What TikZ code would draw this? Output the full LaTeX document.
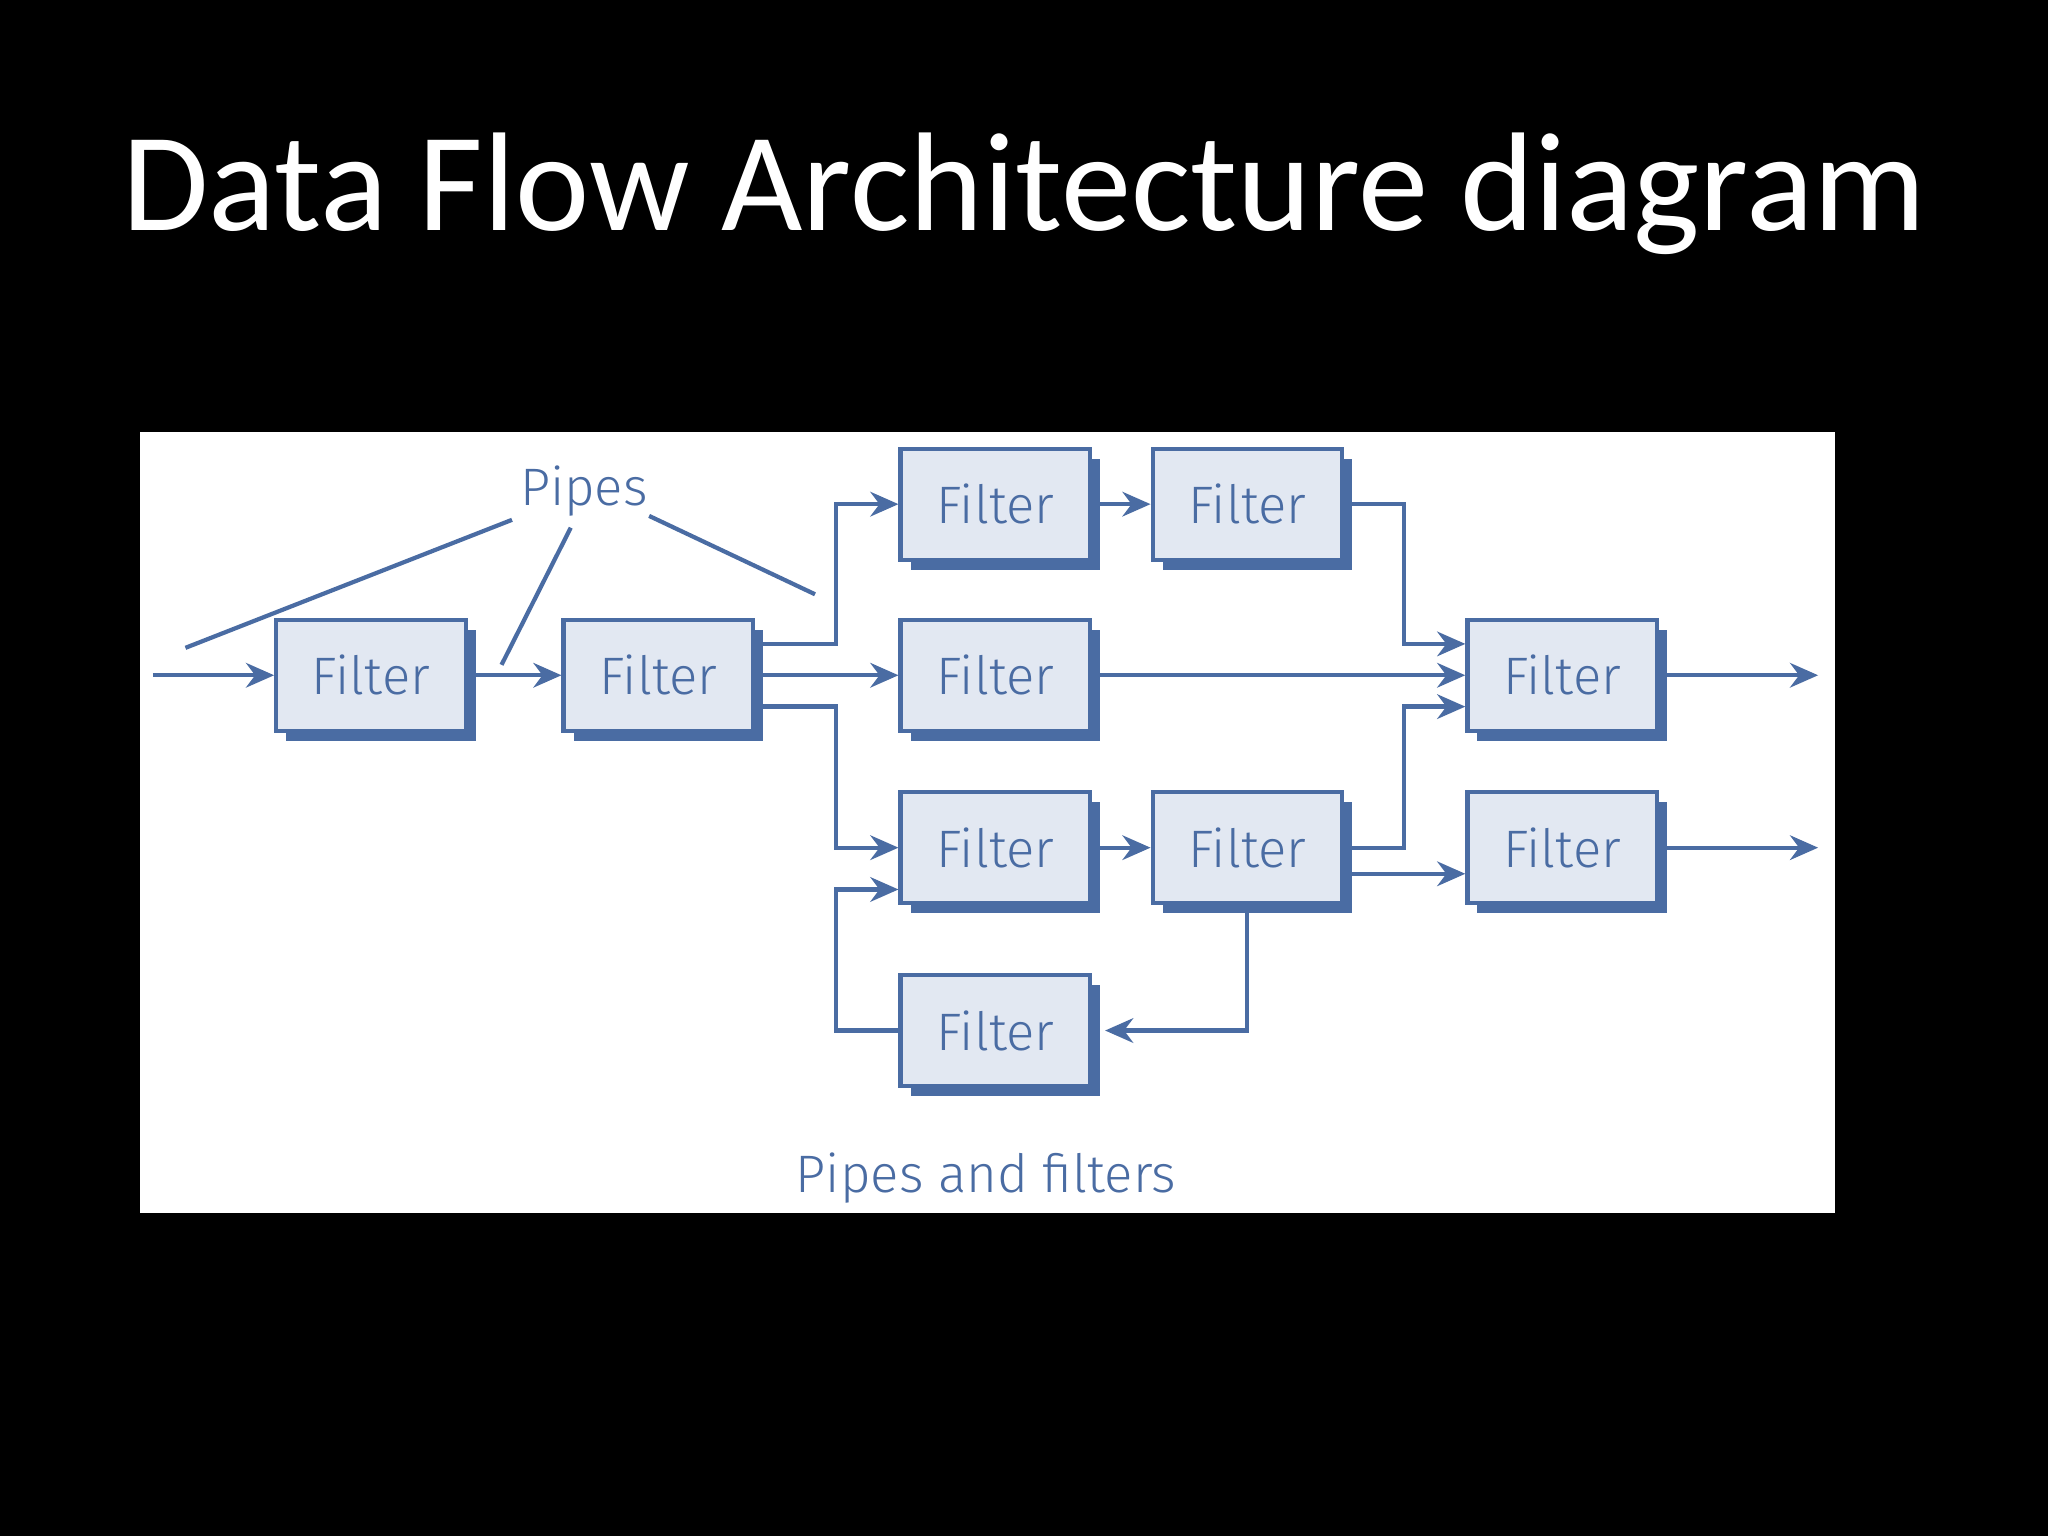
\documentclass[tikz,border=0pt]{standalone}
\usepackage{fontspec}
\setmainfont{Carlito}
\newfontfamily\diafont{Fira Sans Light}
\usetikzlibrary{arrows.meta,positioning,calc,shadows}
\definecolor{pipeblue}{HTML}{4A6CA3}
\definecolor{boxfill}{HTML}{E2E8F2}
\tikzset{
  filter/.style={rectangle, draw=pipeblue, line width=1.2pt, fill=boxfill,
    minimum width=145*0.01306cm, minimum height=85*0.01306cm, font=\diafont\fontsize{15}{18}\selectfont,
    text=pipeblue,
    drop shadow={shadow xshift=0.1cm, shadow yshift=-0.1cm, fill=pipeblue, opacity=1}},
  pipe/.style={draw=pipeblue, line width=1.2pt, -{Stealth[length=8pt,width=7pt]}},
  pointer/.style={draw=pipeblue, line width=1.2pt},
  lbl/.style={text=pipeblue, font=\diafont\fontsize{15}{18}\selectfont}
}
\begin{document}
\begin{tikzpicture}[x=0.01306cm, y=-0.01306cm]
\fill[black] (0,0) rectangle (1568,1176);
\node[text=white, font=\fontsize{40}{48}\selectfont] (title) at (784,148) {Data Flow Architecture diagram};
\fill[white] (107,331) rectangle (1405,929);

% filters
\node[filter] (a)  at (284,517) {Filter};
\node[filter] (b)  at (504,517) {Filter};
\node[filter] (c1) at (762,386) {Filter};
\node[filter] (c2) at (955,386) {Filter};
\node[filter] (d)  at (762,517) {Filter};
\node[filter] (e)  at (1196,517) {Filter};
\node[filter] (f1) at (762,649) {Filter};
\node[filter] (f2) at (955,649) {Filter};
\node[filter] (g)  at (1196,649) {Filter};
\node[filter] (h)  at (762,789) {Filter};

\coordinate (in)   at (117,517);
\coordinate (out1) at (1392,517);
\coordinate (out2) at (1392,649);

% pipes
\draw[pipe] (in) -- (a.west);
\draw[pipe] (a.east) -- (b.west);
\draw[pipe] ($(b.east)+(0,-24)$) -| (640,386) -- (c1.west);
\draw[pipe] (b.east) -- (d.west);
\draw[pipe] ($(b.east)+(0,24)$) -| (640,649) -- (f1.west);
\draw[pipe] (c1.east) -- (c2.west);
\draw[pipe] (c2.east) -| (1075,493) -- ($(e.west)+(0,-24)$);
\draw[pipe] (d.east) -- (e.west);
\draw[pipe] (f1.east) -- (f2.west);
\draw[pipe] (f2.east) -| (1075,541) -- ($(e.west)+(0,24)$);
\draw[pipe] ($(f2.east)+(0,20)$) -- ($(g.west)+(0,20)$);
\draw[pipe] (f2.south) |- ($(h.east)+(10,0)$);
\draw[pipe] (h.west) -| (640,681) -- ($(f1.west)+(0,32)$);
\draw[pipe] (e.east) -- (out1);
\draw[pipe] (g.east) -- (out2);

% labels
\node[lbl] (pipes) at (447,376) {Pipes};
\node[lbl] (caption) at (755,902) {Pipes and filters};
\draw[pointer] (392,398) -- (142,496);
\draw[pointer] (437,404) -- (384,509);
\draw[pointer] (497,395) -- (624,455);
\end{tikzpicture}
\end{document}
